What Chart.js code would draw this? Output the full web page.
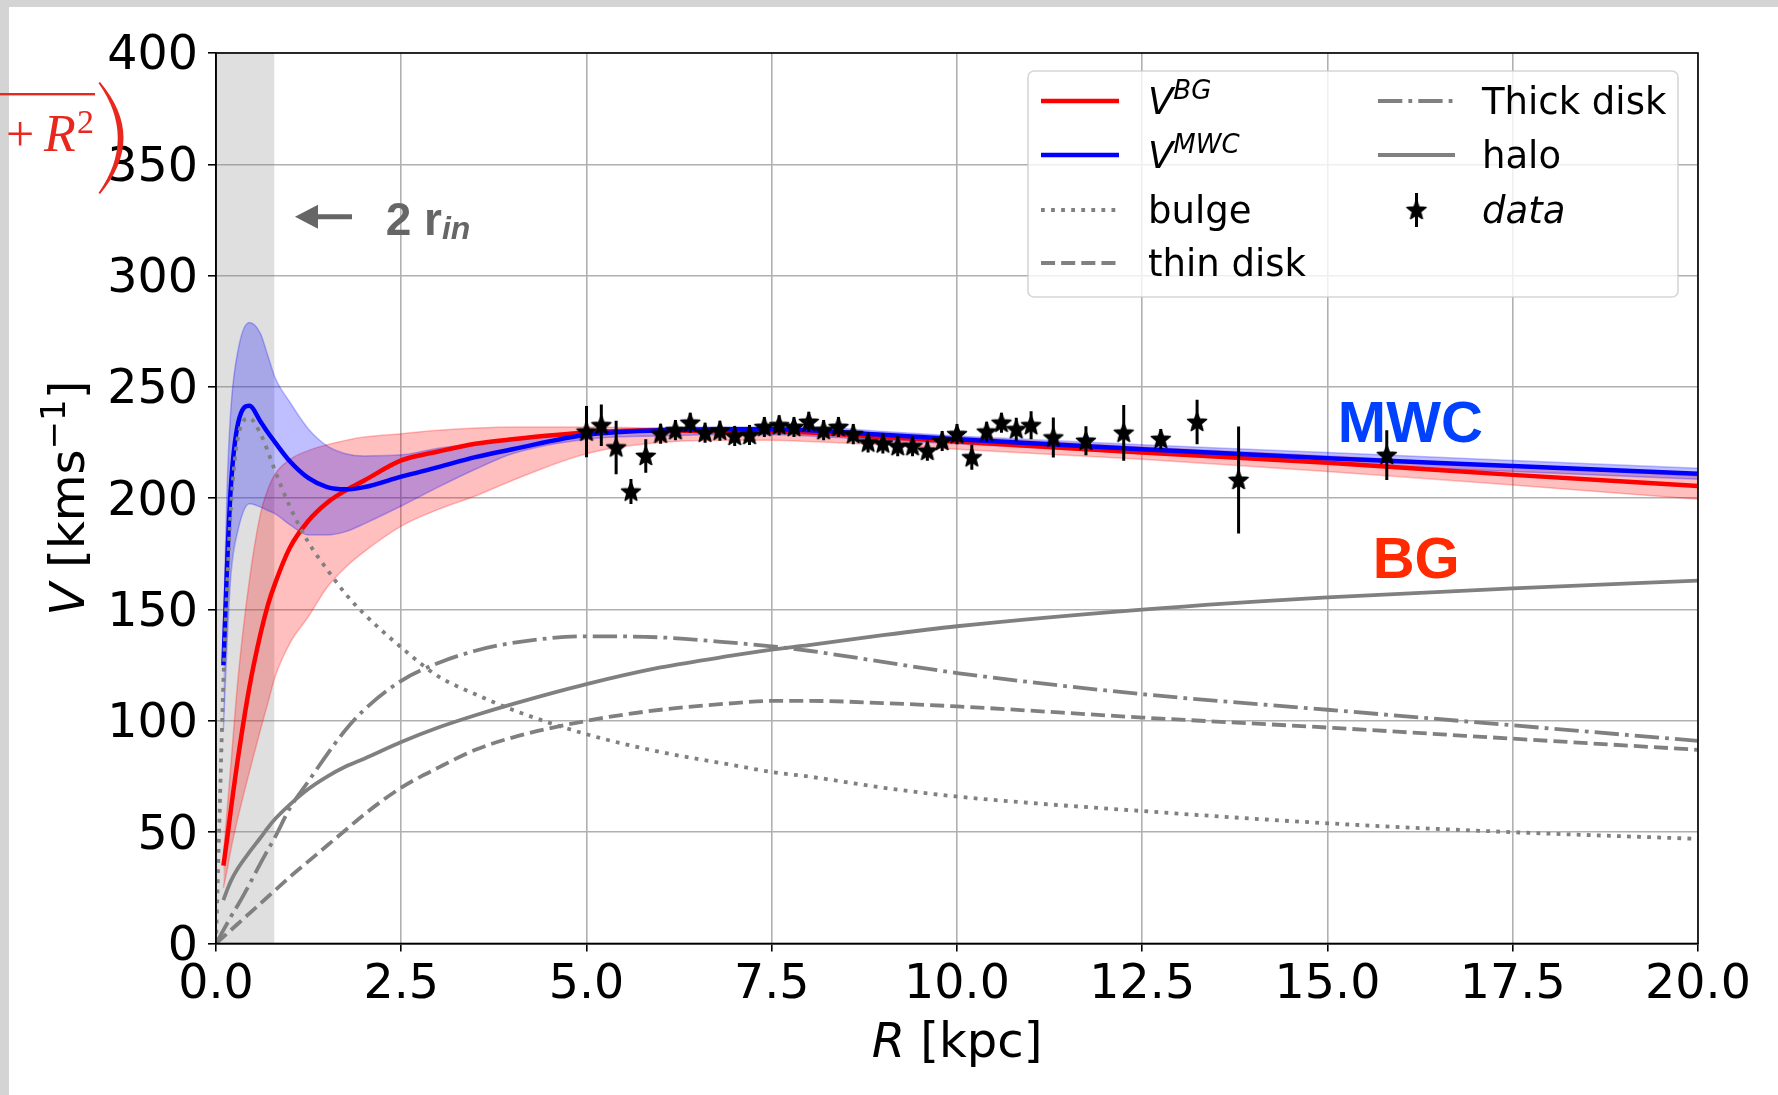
<!DOCTYPE html>
<html lang="en">
<head>
<meta charset="UTF-8">
<title>Rotation curve</title>
<script src="https://cdn.jsdelivr.net/npm/chart.js"></script>
<style>
  html, body { margin: 0; padding: 0; background: #fff; }
  canvas { display: block; }
</style>
</head>
<body>
<canvas id="rcChart" width="1778" height="1095"></canvas>
<script>
// radius grid [kpc] for the model curves
const rGrid = [0, 0.05, 0.1, 0.15, 0.2, 0.3, 0.45, 0.6, 0.7, 0.8, 1.0, 1.25, 1.5, 1.75, 2.0, 2.5, 3.0, 3.5, 4.0, 5.0, 6.0, 7.0, 7.5, 8.0, 9.0, 10.0, 12.5, 15.0, 17.5, 20.0];

// total curves with their bands [km/s]
const vBG      = [null, null, 35, 47, 60, 84, 115, 139, 152, 162, 178, 190, 198, 203.5, 208, 217, 221, 224.5, 226.5, 229.5, 230.5, 230, 230, 229.5, 227.5, 225.5, 220.5, 216, 210.5, 205.5];
const vBGHigh  = [null, null, 40, 60, 80, 120, 163, 193, 204, 211, 217.5, 221.5, 224, 226, 227.5, 229, 230.5, 231.5, 232, 232, 231.5, 231, 231, 230.5, 229, 227.5, 223, 219, 214.5, 210];
const vBGLow   = [null, null, 25, 33, 42, 57, 77, 96, 108, 120, 135, 147, 160, 169, 176, 187.5, 195, 201, 208, 220, 225, 226, 226, 225.5, 224, 222, 217.5, 212, 206, 199.5];
const vMWC     = [null, null, 125, 170, 205, 234, 241.5, 234.5, 229.5, 225, 216.5, 209, 205, 204, 205, 209.7, 214, 218.5, 222, 228.5, 230.5, 231, 231, 230.5, 228.5, 226.5, 222, 218, 214.5, 211];
const vMWCHigh = [null, null, 140, 205, 240, 267, 279, 274, 264, 254, 243, 231, 223.5, 220, 219, 219.5, 222.5, 224.5, 226, 229.5, 231.5, 232, 232, 232, 230, 228, 224, 220.5, 217, 213.5];
const vMWCLow  = [null, null, 96, 135, 165, 186, 197.5, 196, 194.5, 193, 188, 183.5, 183.5, 185, 188.5, 196.5, 205, 213, 220, 226.5, 228, 228.5, 228.5, 228, 226, 224.5, 220, 215.5, 212, 208.5];

// components
const bulge     = [0, 60, 118, 160, 195, 228, 236, 229, 221, 212, 196, 180, 168, 157, 148, 133, 120, 112, 105, 94, 86, 80, 77, 75, 70, 66, 59.5, 54, 50, 47];
const thinDisk  = [0, 1.5, 3, 4.5, 6, 9, 13.5, 18, 21, 24, 30, 37, 44, 51, 58, 70, 79, 87, 92.5, 100, 105, 108, 109, 109, 108, 106.5, 101.5, 97, 92, 87];
const thickDisk = [0, 3, 6, 9, 12, 17.5, 26.5, 36, 42, 48, 61, 73, 85, 96, 105, 118, 126, 131.5, 135, 138, 137.5, 135, 133.5, 131.5, 126.5, 121.5, 112, 105, 98, 91];
const halo      = [null, null, 19.5, 24, 28, 34, 41, 47.5, 52, 56, 62.5, 69.5, 75, 79.5, 83, 90.5, 97, 102.5, 107.5, 116.5, 124, 129.5, 132, 134, 138.5, 142.5, 150, 155.5, 159.5, 163];

// observed rotation curve
const dataR   = [5.0, 5.2, 5.4, 5.6, 5.8, 6.0, 6.2, 6.4, 6.6, 6.8, 7.0, 7.2, 7.4, 7.6, 7.8, 8.0, 8.2, 8.4, 8.6, 8.8, 9.0, 9.2, 9.4, 9.6, 9.8, 10.0, 10.2, 10.4, 10.6, 10.8, 11.0, 11.3, 11.74, 12.25, 12.75, 13.24, 13.8, 15.8];
const dataV   = [229.9, 232.8, 222.8, 203, 219, 229, 230.6, 233.9, 229.4, 230.3, 228, 228.4, 232, 232.8, 232, 234.3, 230.6, 232, 228.8, 225, 224.6, 223.4, 223.4, 221.3, 225.7, 228.8, 218.4, 229.9, 233.9, 231, 232.8, 227.3, 225.8, 229.4, 226.6, 234.3, 208.2, 219.4];
const dataErr = [11.5, 9.3, 12, 5.6, 7.5, 4.5, 4.5, 4.5, 4.5, 4.5, 4.5, 4.5, 4.5, 4.5, 4.5, 4.5, 4.5, 4.5, 4.5, 4.5, 4.5, 4.5, 4.5, 4.5, 4.5, 4.5, 5.6, 4.5, 4.5, 5.2, 6.3, 9, 6.5, 12.5, 4.5, 10, 24, 11.2];

const xTicks = [0, 2.5, 5, 7.5, 10, 12.5, 15, 17.5, 20];
const innerEdge = 0.787; // 2 r_in

const GREY = '#808080';
const GW = 3.8; // grey line width
const FONT = 'DejaVu Sans';
const DOT = [GW, GW * 1.65], DASH = [GW * 3.7, GW * 1.6], DASHDOT = [GW * 6.4, GW * 1.6, GW, GW * 1.6];

function pts(ys) {
  return rGrid.map((r, i) => ({ x: r, y: ys[i] })).filter(p => p.y !== null);
}

function makeStar(r) {
  const s = Math.ceil(r * 2 + 4);
  const c = document.createElement('canvas');
  c.width = s; c.height = s;
  const g = c.getContext('2d');
  g.translate(s / 2, s / 2 + r * 0.05);
  g.beginPath();
  for (let i = 0; i < 10; i++) {
    const rr = i % 2 ? r * 0.43 : r;
    const a = -Math.PI / 2 + i * Math.PI / 5;
    g.lineTo(rr * Math.cos(a), rr * Math.sin(a));
  }
  g.closePath();
  g.fillStyle = '#000';
  g.fill();
  g.lineJoin = 'round';
  g.lineWidth = 1.5;
  g.strokeStyle = '#000';
  g.stroke();
  return c;
}
const star = makeStar(10);

// draw text pieces one after another, returns total width
function runs(ctx, parts, x, y, measureOnly) {
  let w = 0;
  for (const p of parts) {
    ctx.font = p.font;
    if (!measureOnly) ctx.fillText(p.t, x + w, y + (p.dy || 0));
    w += ctx.measureText(p.t).width;
  }
  return w;
}

function sample(ctx, x1, x2, y, color, lw, dash) {
  ctx.save();
  ctx.strokeStyle = color;
  ctx.lineWidth = lw;
  ctx.setLineDash(dash || []);
  ctx.beginPath();
  ctx.moveTo(x1, y);
  ctx.lineTo(x2, y);
  ctx.stroke();
  ctx.restore();
}

const decor = {
  id: 'decor',
  beforeDraw(chart) {
    const ctx = chart.ctx;
    ctx.save();
    ctx.fillStyle = '#fff';
    ctx.fillRect(0, 0, chart.width, chart.height);
    ctx.fillStyle = '#d4d4d4';
    ctx.fillRect(0, 0, chart.width, 7);
    ctx.fillRect(0, 0, 9, chart.height);
    ctx.restore();
  },
  beforeDatasetsDraw(chart) {
    const { ctx, chartArea: a, scales: { x } } = chart;
    ctx.save();
    ctx.fillStyle = 'rgba(128,128,128,0.25)';
    const x1 = x.getPixelForValue(innerEdge);
    ctx.fillRect(a.left, a.top, x1 - a.left, a.bottom - a.top);
    ctx.restore();
  },
  afterDatasetsDraw(chart) {
    const { ctx, scales: { x, y } } = chart;
    ctx.save();
    ctx.strokeStyle = '#000';
    ctx.lineWidth = 3;
    ctx.beginPath();
    dataR.forEach((r, i) => {
      const px = x.getPixelForValue(r);
      ctx.moveTo(px, y.getPixelForValue(dataV[i] - dataErr[i]));
      ctx.lineTo(px, y.getPixelForValue(dataV[i] + dataErr[i]));
    });
    ctx.stroke();
    ctx.restore();
  },
  afterDraw(chart) {
    const { ctx, chartArea: a, scales: { x, y } } = chart;
    ctx.save();

    // frame
    ctx.strokeStyle = '#000';
    ctx.lineWidth = 1.6;
    ctx.strokeRect(a.left, a.top, a.right - a.left, a.bottom - a.top);

    // 2 r_in arrow + label
    ctx.fillStyle = '#666666';
    const ay = y.getPixelForValue(326.5);
    const ax0 = x.getPixelForValue(1.066), ax1 = x.getPixelForValue(1.835);
    ctx.beginPath();
    ctx.moveTo(ax0, ay);
    ctx.lineTo(ax0 + 23, ay - 12);
    ctx.lineTo(ax0 + 23, ay - 2.5);
    ctx.lineTo(ax1, ay - 2.5);
    ctx.lineTo(ax1, ay + 2.5);
    ctx.lineTo(ax0 + 23, ay + 2.5);
    ctx.lineTo(ax0 + 23, ay + 12);
    ctx.closePath();
    ctx.fill();
    ctx.textBaseline = 'alphabetic';
    ctx.textAlign = 'left';
    const tx = x.getPixelForValue(2.29), ty = y.getPixelForValue(316.4);
    runs(ctx, [
      { t: '2 r', font: 'bold 46px "Liberation Sans"', dy: -4 },
      { t: 'in', font: 'italic bold 32px "Liberation Sans"' }
    ], tx, ty);

    // curve labels
    ctx.font = 'bold 58px "Liberation Sans"';
    ctx.fillStyle = '#0040ff';
    ctx.fillText('MWC', x.getPixelForValue(15.14), y.getPixelForValue(225.4));
    ctx.fillStyle = '#ff2a00';
    ctx.fillText('BG', x.getPixelForValue(15.61), y.getPixelForValue(164.2));

    // legend
    const lx = 1028, ly = 71, lw = 650, lh = 226;
    ctx.beginPath();
    ctx.roundRect(lx, ly, lw, lh, 6);
    ctx.fillStyle = 'rgba(255,255,255,0.8)';
    ctx.fill();
    ctx.strokeStyle = 'rgba(204,204,204,0.8)';
    ctx.lineWidth = 1.6;
    ctx.stroke();
    const rows = [101, 155, 210, 263];
    const c1a = 1041, c1b = 1119, c1t = 1148;
    const c2a = 1378, c2b = 1455, c2t = 1482;
    sample(ctx, c1a, c1b, rows[0], '#ff0000', 4.5);
    sample(ctx, c1a, c1b, rows[1], '#0000ff', 4.5);
    sample(ctx, c1a, c1b, rows[2], GREY, GW, DOT);
    sample(ctx, c1a, c1b, rows[3], GREY, GW, DASH);
    sample(ctx, c2a, c2b, rows[0], GREY, GW, DASHDOT);
    sample(ctx, c2a, c2b, rows[1], GREY, GW);
    const sx = (c2a + c2b) / 2;
    ctx.strokeStyle = '#000';
    ctx.lineWidth = 3;
    ctx.beginPath();
    ctx.moveTo(sx, rows[2] - 17);
    ctx.lineTo(sx, rows[2] + 17);
    ctx.stroke();
    ctx.drawImage(star, sx - star.width / 2, rows[2] - star.height / 2);

    ctx.fillStyle = '#000';
    const reg = '37px "' + FONT + '"', ital = 'italic 37px "' + FONT + '"', sup = 'italic 26px "' + FONT + '"';
    const off = 13;
    runs(ctx, [{ t: 'V', font: ital }, { t: 'BG', font: sup, dy: -15 }], c1t, rows[0] + off);
    runs(ctx, [{ t: 'V', font: ital }, { t: 'MWC', font: sup, dy: -15 }], c1t, rows[1] + off);
    runs(ctx, [{ t: 'bulge', font: reg }], c1t, rows[2] + off);
    runs(ctx, [{ t: 'thin disk', font: reg }], c1t, rows[3] + off);
    runs(ctx, [{ t: 'Thick disk', font: reg }], c2t, rows[0] + off);
    runs(ctx, [{ t: 'halo', font: reg }], c2t, rows[1] + off);
    runs(ctx, [{ t: 'data', font: ital }], c2t, rows[2] + off);

    // axis titles
    const big = '48px "' + FONT + '"', bigI = 'italic 48px "' + FONT + '"';
    const xParts = [{ t: 'R', font: bigI }, { t: ' [kpc]', font: big }];
    const xw = runs(ctx, xParts, 0, 0, true);
    runs(ctx, xParts, (a.left + a.right) / 2 - xw / 2, 1057);

    const yParts = [
      { t: 'V', font: bigI }, { t: ' [kms', font: big },
      { t: '\u22121', font: '34px "' + FONT + '"', dy: -19 }, { t: ']', font: big }
    ];
    const yw = runs(ctx, yParts, 0, 0, true);
    ctx.save();
    ctx.translate(84, (a.top + a.bottom) / 2);
    ctx.rotate(-Math.PI / 2);
    runs(ctx, yParts, -yw / 2, 0);
    ctx.restore();

    // cropped red formula fragment at top left
    ctx.fillStyle = '#e8281e';
    ctx.fillRect(0, 93, 95, 2.4);
    ctx.font = '50px "Liberation Serif"';
    ctx.fillText('+', 6, 151);
    ctx.font = 'italic 52px "Liberation Serif"';
    ctx.fillText('R', 44, 151);
    ctx.font = '34px "Liberation Serif"';
    ctx.fillText('2', 77, 133);
    ctx.beginPath();
    ctx.moveTo(100, 82);
    ctx.quadraticCurveTo(147, 138, 100, 194);
    ctx.lineTo(98.5, 193);
    ctx.quadraticCurveTo(137, 138, 98.5, 83);
    ctx.closePath();
    ctx.fill();

    ctx.restore();
  }
};

const tickFont = { family: FONT, size: 47.5 };

new Chart(document.getElementById('rcChart'), {
  type: 'line',
  data: {
    datasets: [
      { data: dataR.map((r, i) => ({ x: r, y: dataV[i] })), showLine: false, pointStyle: star, pointRadius: 10, order: 0 },
      { data: pts(bulge), borderColor: GREY, borderWidth: GW, borderDash: DOT, order: 1 },
      { data: pts(halo), borderColor: GREY, borderWidth: GW, order: 2 },
      { data: pts(thickDisk), borderColor: GREY, borderWidth: GW, borderDash: DASHDOT, order: 3 },
      { data: pts(thinDisk), borderColor: GREY, borderWidth: GW, borderDash: DASH, order: 4 },
      { data: pts(vMWC), borderColor: '#0000ff', borderWidth: 4.5, order: 5 },
      { data: pts(vBG), borderColor: '#ff0000', borderWidth: 4.5, order: 6 },
      { data: pts(vMWCHigh), borderColor: 'rgba(0,0,255,0.25)', borderWidth: 1.5, backgroundColor: 'rgba(0,0,255,0.25)', fill: '+1', order: 7 },
      { data: pts(vMWCLow), borderColor: 'rgba(0,0,255,0.25)', borderWidth: 1.5, order: 8 },
      { data: pts(vBGHigh), borderColor: 'rgba(255,0,0,0.25)', borderWidth: 1.5, backgroundColor: 'rgba(255,0,0,0.25)', fill: '+1', order: 9 },
      { data: pts(vBGLow), borderColor: 'rgba(255,0,0,0.25)', borderWidth: 1.5, order: 10 }
    ]
  },
  options: {
    responsive: false,
    animation: false,
    devicePixelRatio: 1,
    layout: { padding: { top: 53, right: 80, left: 0, bottom: 0 } },
    plugins: { legend: { display: false }, tooltip: { enabled: false } },
    elements: { point: { radius: 0 }, line: { cubicInterpolationMode: 'monotone' } },
    scales: {
      x: {
        type: 'linear', min: 0, max: 20,
        afterFit: s => { s.height = 151.5; },
        afterBuildTicks: s => { s.ticks = xTicks.map(v => ({ value: v })); },
        ticks: { autoSkip: false, maxRotation: 0, callback: v => v.toFixed(1), font: tickFont, color: '#000', padding: 6 },
        grid: { color: '#b0b0b0', lineWidth: 1.6, tickColor: '#000', tickLength: 8, tickWidth: 1.6 },
        border: { color: '#000', width: 1.6 }
      },
      y: {
        min: 0, max: 400,
        afterFit: s => { s.width = 216; },
        ticks: { stepSize: 50, autoSkip: false, font: tickFont, color: '#000', padding: 10, labelOffset: 4 },
        grid: { color: '#b0b0b0', lineWidth: 1.6, tickColor: '#000', tickLength: 8, tickWidth: 1.6 },
        border: { color: '#000', width: 1.6 }
      }
    }
  },
  plugins: [decor]
});
</script>
</body>
</html>
